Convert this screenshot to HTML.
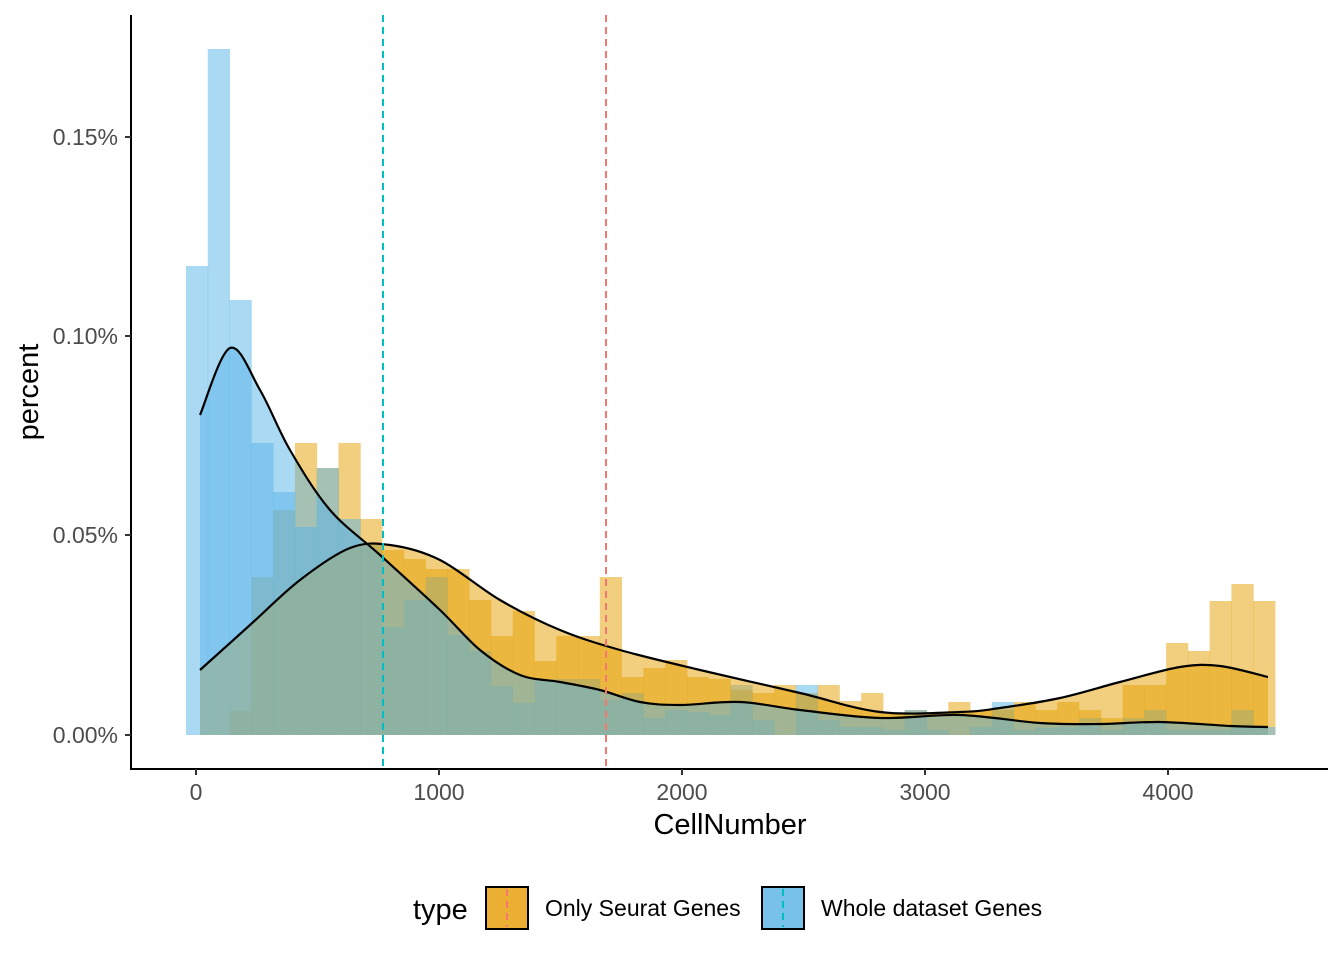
<!DOCTYPE html><html><head><meta charset="utf-8"><style>body{margin:0;background:#fff}svg{display:block;font-family:"Liberation Sans",sans-serif}</style></head><body>
<svg width="1344" height="960" viewBox="0 0 1344 960" id="s">
<g id="bars"></g>
<path id="od" fill="none" stroke="#000" stroke-width="2.2"/>
<path id="bd" fill="none" stroke="#000" stroke-width="2.2"/>
<line x1="383" y1="15" x2="383" y2="768" stroke="#00BFC4" stroke-width="2" stroke-dasharray="7,5"/>
<line x1="606" y1="15" x2="606" y2="768" stroke="#F8766D" stroke-width="2" stroke-dasharray="7,5"/>
<g stroke="#000" stroke-width="2" fill="none"><path d="M131 15V769H1328"/></g>
<g stroke="#333" stroke-width="2"><line x1="125" y1="137" x2="131" y2="137"/><line x1="125" y1="336" x2="131" y2="336"/><line x1="125" y1="535" x2="131" y2="535"/><line x1="125" y1="735" x2="131" y2="735"/>
<line x1="196" y1="769" x2="196" y2="775"/><line x1="439" y1="769" x2="439" y2="775"/><line x1="682" y1="769" x2="682" y2="775"/><line x1="925" y1="769" x2="925" y2="775"/><line x1="1168" y1="769" x2="1168" y2="775"/></g>
<g font-size="23" fill="#4d4d4d" text-anchor="end"><text x="118" y="145">0.15%</text><text x="118" y="344">0.10%</text><text x="118" y="543">0.05%</text><text x="118" y="743">0.00%</text></g>
<g font-size="23" fill="#4d4d4d" text-anchor="middle"><text x="196" y="800">0</text><text x="439" y="800">1000</text><text x="682" y="800">2000</text><text x="925" y="800">3000</text><text x="1168" y="800">4000</text></g>
<text x="730" y="834" font-size="29" text-anchor="middle">CellNumber</text>
<text transform="translate(38,392) rotate(-90)" font-size="29" text-anchor="middle">percent</text>
<text x="413" y="919" font-size="29">type</text>
<rect x="486" y="887" width="42" height="42" fill="#EBB033" stroke="#000" stroke-width="2"/>
<line x1="507" y1="889" x2="507" y2="927" stroke="#F8766D" stroke-width="2" stroke-dasharray="7,5"/>
<text x="545" y="916" font-size="23">Only Seurat Genes</text>
<rect x="762" y="887" width="42" height="42" fill="#78C1EA" stroke="#000" stroke-width="2"/>
<line x1="783" y1="889" x2="783" y2="927" stroke="#00BFC4" stroke-width="2" stroke-dasharray="7,5"/>
<text x="821" y="916" font-size="23">Whole dataset Genes</text>
</svg>
<script>
var o=[735,735,711,577,510,443,468,443,519,550,559,569,569,600,636,611,661,636,636,577,677,668,660,677,679,690,693,685,693,685,701,693,714,710,714,702,710,710,702,710,702,710,718,685,685,643,651,601,584,601];
var b=[266,49,300,443,492,527,468,519,543,627,600,577,635,651,686,703,679,679,679,700,693,718,710,712,715,685,720,735,685,720,727,727,730,710,730,735,727,702,730,728,727,718,730,718,710,730,730,730,710,727];
var g=document.getElementById('bars'),h='';
for(var k=0;k<50;k++){var x=186+21.78*k;h+='<rect x="'+x+'" y="'+o[k]+'" width="22.2" height="'+(735-o[k])+'" fill="#E69F00" fill-opacity="0.5"/>';}
for(var k=0;k<50;k++){var x=186+21.78*k;h+='<rect x="'+x+'" y="'+b[k]+'" width="22.2" height="'+(735-b[k])+'" fill="#56B4E9" fill-opacity="0.5"/>';}
g.innerHTML=h;
function sm(p){var d='M'+p[0][0]+' '+p[0][1];for(var i=0;i<p.length-1;i++){var p0=p[i-1]||p[i],p1=p[i],p2=p[i+1],p3=p[i+2]||p2;d+=' C'+(p1[0]+(p2[0]-p0[0])/6)+' '+(p1[1]+(p2[1]-p0[1])/6)+' '+(p2[0]-(p3[0]-p1[0])/6)+' '+(p2[1]-(p3[1]-p1[1])/6)+' '+p2[0]+' '+p2[1];}return d;}
var bp=[[200,415],[230,348],[260,390],[290,450],[330,510],[380,555],[440,610],[480,650],[520,675],[560,682],[600,690],[640,702],[680,705],[740,702],[800,710],[880,718],[960,715],[1040,723],[1100,724],[1160,722],[1230,726],[1268,727]];
var op=[[200,670],[250,625],[300,580],[350,548],[390,545],[440,560],[500,600],[560,630],[620,650],[700,670],[800,693],[880,712],[960,712],[1000,708],[1060,698],[1120,682],[1180,667],[1220,666],[1268,677]];
document.getElementById('bd').setAttribute('d',sm(bp));
document.getElementById('od').setAttribute('d',sm(op));
var s=document.getElementById('s');
function fill(p,c,before){var e=document.createElementNS('http://www.w3.org/2000/svg','path');e.setAttribute('d',sm(p)+' L1268 735 L200 735Z');e.setAttribute('fill',c);e.setAttribute('fill-opacity','0.5');s.insertBefore(e,before);}
var od=document.getElementById('od');
fill(op,'#E69F00',od);fill(bp,'#56B4E9',od);
</script>
</body></html>
